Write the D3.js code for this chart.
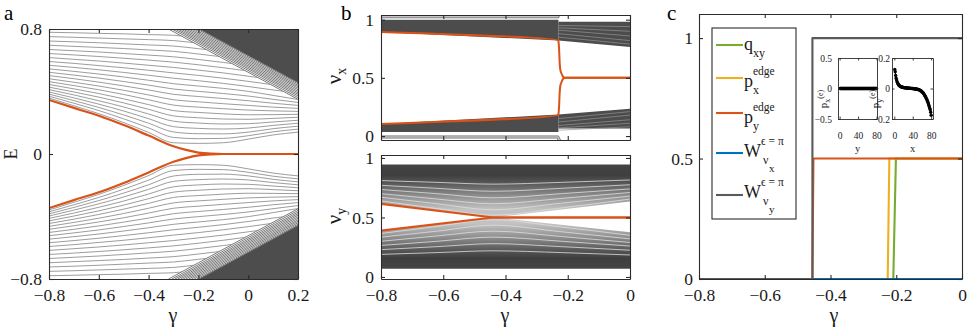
<!DOCTYPE html>
<html>
<head>
  <meta charset="utf-8">
  <title>Edge spectrum, Wannier bands and edge polarization</title>
  <script src="https://d3js.org/d3.v7.min.js"></script>
  <style>
    body { margin: 0; background: #fff; }
  </style>
</head>
<body>
<svg width="969" height="334"></svg>
<script>
// ---------- panel a: spectrum E(gamma) ----------
var gammaA = [-0.8, -0.7, -0.6, -0.5, -0.4, -0.3, -0.2, -0.1, 0, 0.1, 0.2];
// upper bulk levels (lower half is the mirror image, drawn with a flipped scale)
var bulkE = [
  [0.358, 0.309, 0.258, 0.201, 0.138, 0.072, 0.068, 0.072, 0.095, 0.122, 0.140],
  [0.370, 0.325, 0.278, 0.225, 0.167, 0.106, 0.098, 0.100, 0.117, 0.142, 0.159],
  [0.383, 0.342, 0.298, 0.250, 0.197, 0.141, 0.130, 0.129, 0.140, 0.162, 0.178],
  [0.397, 0.359, 0.319, 0.275, 0.226, 0.175, 0.164, 0.160, 0.166, 0.183, 0.197],
  [0.412, 0.378, 0.341, 0.301, 0.256, 0.210, 0.198, 0.192, 0.194, 0.205, 0.216],
  [0.428, 0.397, 0.364, 0.327, 0.286, 0.244, 0.232, 0.224, 0.222, 0.228, 0.235],
  [0.445, 0.417, 0.387, 0.353, 0.316, 0.278, 0.266, 0.257, 0.251, 0.252, 0.254],
  [0.463, 0.438, 0.411, 0.381, 0.347, 0.313, 0.300, 0.290, 0.281, 0.276, 0.273],
  [0.482, 0.459, 0.435, 0.408, 0.378, 0.347, 0.334, 0.322, 0.311, 0.300, 0.292],
  [0.502, 0.482, 0.460, 0.436, 0.410, 0.382, 0.368, 0.355, 0.341, 0.325, 0.311],
  [0.523, 0.505, 0.486, 0.464, 0.441, 0.416, 0.401, 0.387, 0.371, 0.350, 0.330],
  [0.545, 0.529, 0.512, 0.493, 0.472, 0.450, 0.435, 0.420, 0.401, 0.375, 0.349],
  [0.568, 0.554, 0.539, 0.522, 0.504, 0.485, 0.469, 0.452, 0.432, 0.410, 0.390],
  [0.592, 0.580, 0.566, 0.552, 0.536, 0.519, 0.503, 0.485, 0.465, 0.443, 0.420],
  [0.617, 0.606, 0.595, 0.582, 0.568, 0.554, 0.537, 0.519, 0.498, 0.476, 0.454],
  [0.643, 0.634, 0.624, 0.613, 0.601, 0.588, 0.571, 0.552, 0.531, 0.509, 0.487],
  [0.669, 0.661, 0.653, 0.643, 0.633, 0.622, 0.605, 0.586, 0.565, 0.543, 0.521],
  [0.696, 0.689, 0.682, 0.675, 0.666, 0.657, 0.640, 0.621, 0.600, 0.578, 0.556],
  [0.723, 0.718, 0.712, 0.705, 0.698, 0.691, 0.674, 0.655, 0.634, 0.612, 0.590],
  [0.751, 0.747, 0.742, 0.737, 0.732, 0.726, 0.709, 0.690, 0.669, 0.647, 0.625],
  [0.779, 0.776, 0.772, 0.769, 0.764, 0.760, 0.743, 0.724, 0.703, 0.681, 0.659]
];
var edgeGammaA = [-0.8, -0.7, -0.6, -0.5, -0.4, -0.3, -0.25, -0.2, -0.15, -0.1, 0, 0.1, 0.2];
var edgeE = [0.346, 0.295, 0.245, 0.185, 0.118, 0.05, 0.026, 0.009, 0.002, 0, 0, 0, 0];
// diagonal bulk band: gamma where each level leaves E = 0.8, and its E at gamma = 0.2
var bandTopGamma = [-0.320, -0.306, -0.294, -0.283, -0.272, -0.261, -0.250, -0.239, -0.228, -0.217, -0.206, -0.196];
var bandRightE = [0.350, 0.361, 0.372, 0.382, 0.392, 0.402, 0.412, 0.422, 0.431, 0.440, 0.449, 0.458];
var aXTicks = [-0.8, -0.6, -0.4, -0.2, 0, 0.2];
var aXLabels = ["\u22120.8", "\u22120.6", "\u22120.4", "\u22120.2", "0", "0.2"];
var aYTicks = [-0.8, 0, 0.8];
var aYLabels = ["\u22120.8", "0", "0.8"];

// ---------- panel b: Wannier bands nu_x, nu_y ----------
var nuxEdgeG = [-0.8, -0.23, -0.224, -0.219, -0.212, 0];
var nuxEdgeUp = [0.895, 0.82, 0.57, 0.53, 0.5, 0.5];
var nuxEdgeLo = [0.103, 0.185, 0.43, 0.47, 0.5, 0.5];
var nuxLeftG = [-0.8, -0.23];
var nuxUpLeftTop = [1.0, 1.0];
var nuxUpLeftBot = [0.895, 0.82];
var nuxLoLeftTop = [0.103, 0.185];
var nuxLoLeftBot = [0.035, 0.035];
var nuxRightG = [-0.23, 0];
var nuxUpRightTop = [0.982, 0.982];
var nuxUpRightBot = [0.82, 0.765];
var nuxLoRightTop = [0.185, 0.235];
var nuxLoRightBot = [0.065, 0.065];
var nuxRimG = [-0.8, -0.232, -0.224];
var nuxRimUp = [1.025, 1.025, 1.07];
var nuxRimLo = [-0.008, -0.008, -0.05];
var nuxStreaksUp = [[0.95, 0.94], [0.93, 0.90], [0.91, 0.86], [0.88, 0.82], [0.85, 0.79]];
var nuxStreaksLo = [[0.05, 0.08], [0.07, 0.11], [0.09, 0.14], [0.12, 0.18], [0.15, 0.21]];

var nuyG = [-0.8, -0.44, 0];
var nuyOuterTop = [0.945, 0.945, 0.945];
var nuyOuterBot = [0.07, 0.07, 0.07];
var nuyGapUp = [0.615, 0.5, 0.635];
var nuyGapLo = [0.39, 0.5, 0.375];
var nuyArcG = [-0.8, -0.62, -0.44, -0.22, 0];
var nuyArcs = [
  [0.64, 0.575, 0.52, 0.58, 0.655],
  [0.67, 0.615, 0.565, 0.62, 0.68],
  [0.70, 0.655, 0.615, 0.66, 0.71],
  [0.735, 0.70, 0.665, 0.70, 0.74],
  [0.77, 0.745, 0.72, 0.745, 0.775],
  [0.81, 0.795, 0.78, 0.795, 0.815],
  [0.365, 0.425, 0.48, 0.42, 0.35],
  [0.335, 0.385, 0.435, 0.38, 0.32],
  [0.30, 0.345, 0.385, 0.34, 0.29],
  [0.265, 0.30, 0.335, 0.30, 0.26],
  [0.23, 0.255, 0.28, 0.255, 0.225],
  [0.19, 0.205, 0.22, 0.205, 0.185]
];
var bXTicks = [-0.8, -0.6, -0.4, -0.2, 0];
var bXLabels = ["\u22120.8", "\u22120.6", "\u22120.4", "\u22120.2", "0"];
var bYTicks = [0, 0.5, 1];
var bYLabels = ["0", "0.5", "1"];

// ---------- panel c: quadrupole moment, edge polarizations, Wannier-sector polarizations ----------
var qxyG = [-0.8, -0.209, -0.201, 0];
var qxyV = [0, 0, 0.5, 0.5];
var pxEdgeG = [-0.8, -0.226, -0.221, 0];
var pxEdgeV = [0, 0, 0.5, 0.5];
var pyEdgeG = [-0.8, -0.455, -0.452, 0];
var pyEdgeV = [0, 0, 0.5, 0.5];
var wnuxG = [-0.8, 0];
var wnuxV = [0, 0];
var wnuyG = [-0.8, -0.455, -0.455, 0];
var wnuyV = [0, 0, 1, 1];
var legendMain = ["q", "p", "p", "W", "W"];
var legendSup = ["", "edge", "edge", "\u03f5 = \u03c0", "\u03f5 = \u03c0"];
var legendSub = ["xy", "x", "y", "\u03bd", "\u03bd"];
var legendSubSub = ["", "", "", "x", "y"];
var seriesColors = ["#77AC30", "#EDB120", "#D95319", "#0072BD", "#5a5a5a"];
var cXTicks = [-0.8, -0.6, -0.4, -0.2, 0];
var cXLabels = ["\u22120.8", "\u22120.6", "\u22120.4", "\u22120.2", "0"];
var cYTicks = [0, 0.5, 1];
var cYLabels = ["0", "0.5", "1"];

// insets: edge polarization profiles
var insetSite = [1,2,3,4,5,6,7,8,9,10,11,12,13,14,15,16,17,18,19,20,21,22,23,24,25,26,27,28,29,30,31,32,33,34,35,36,37,38,39,40,
  41,42,43,44,45,46,47,48,49,50,51,52,53,54,55,56,57,58,59,60,61,62,63,64,65,66,67,68,69,70,71,72,73,74,75,76,77,78,79,80];
var pxProfile = [0,0,0,0,0,0,0,0,0,0,0,0,0,0,0,0,0,0,0,0,0,0,0,0,0,0,0,0,0,0,0,0,0,0,0,0,0,0,0,0,
  0,0,0,0,0,0,0,0,0,0,0,0,0,0,0,0,0,0,0,0,0,0,0,0,0,0,0,0,0,0,0,0,0,0,0,0,0,0,0,0];
var pyProfile = [0.125, 0.11, 0.085, 0.068, 0.055, 0.045, 0.037, 0.031, 0.026, 0.022, 0.019, 0.016, 0.014, 0.012, 0.011, 0.01,
  0.009, 0.008, 0.007, 0.0065, 0.006, 0.0055, 0.005, 0.0045, 0.004, 0.0036, 0.0032, 0.0028, 0.0025, 0.0022, 0.002, 0.0017,
  0.0015, 0.0012, 0.001, 0.0008, 0.0006, 0.0004, 0.0002, 0,
  -0.0005, -0.001, -0.0015, -0.002, -0.0025, -0.003, -0.0035, -0.004, -0.0045, -0.005, -0.006, -0.007, -0.008, -0.009,
  -0.01, -0.012, -0.014, -0.016, -0.018, -0.021, -0.024, -0.027, -0.031, -0.035, -0.04, -0.045, -0.05, -0.056, -0.062,
  -0.068, -0.075, -0.082, -0.09, -0.1, -0.11, -0.12, -0.13, -0.14, -0.155, -0.175];
var insetXTicks = [0, 40, 80];
var insetXLabels = ["0", "40", "80"];
var pxYTicks = [-0.5, 0, 0.5];
var pxYLabels = ["\u22120.5", "0", "0.5"];
var pyYTicks = [-0.2, 0, 0.2];
var pyYLabels = ["\u22120.2", "0", "0.2"];

// ---------- helpers ----------
var FONT = "Liberation Serif, Times New Roman, serif";
var svg = d3.select("svg").attr("font-family", FONT);
var defs = svg.append("defs");
var ORANGE = "#D95319";

function clipRect(id, x, y) {
  defs.append("clipPath").attr("id", id).append("rect")
    .attr("x", x.range()[0]).attr("y", y.range()[1])
    .attr("width", x.range()[1] - x.range()[0]).attr("height", y.range()[0] - y.range()[1]);
}

function boxAxes(g, x, y, o) {
  var tick = o.tick || 4, fs = o.fs || 17.5;
  var xr = x.range(), yr = y.range();
  var none = function() { return ""; };
  var ax = g.append("g").attr("color", "#2b2b2b");
  ax.append("g").attr("transform", "translate(0," + yr[0] + ")")
    .call(d3.axisBottom(x).tickValues(o.xt).tickFormat(function(d, i) { return o.xl ? o.xl[i] : ""; })
      .tickSizeInner(-tick).tickSizeOuter(0).tickPadding(o.xpad || 10));
  ax.append("g").attr("transform", "translate(0," + yr[1] + ")")
    .call(d3.axisTop(x).tickValues(o.xt).tickFormat(none).tickSizeInner(-tick).tickSizeOuter(0));
  ax.append("g").attr("transform", "translate(" + xr[0] + ",0)")
    .call(d3.axisLeft(y).tickValues(o.yt).tickFormat(function(d, i) { return o.yl ? o.yl[i] : ""; })
      .tickSizeInner(-tick).tickSizeOuter(0).tickPadding(o.ypad || 7));
  ax.append("g").attr("transform", "translate(" + xr[1] + ",0)")
    .call(d3.axisRight(y).tickValues(o.yt).tickFormat(none).tickSizeInner(-tick).tickSizeOuter(0));
  ax.selectAll("g").attr("font-size", fs).attr("font-family", FONT);
  ax.selectAll(".domain, .tick line").attr("stroke-width", o.sw || 1.1);
  ax.selectAll("text").attr("fill", "#1a1a1a");
  return ax;
}

function area(g, xs, ys, G, lo, hi, fill) {
  g.append("path")
    .attr("d", d3.area().x(function(d, i) { return xs(G[i]); })
      .y0(function(d, i) { return ys(lo[i]); }).y1(function(d, i) { return ys(hi[i]); })(G))
    .attr("fill", fill);
}

function curve(g, xs, ys, G, V, color, width, kind) {
  return g.append("path")
    .attr("d", d3.line().curve(kind || d3.curveLinear)(G.map(function(v, i) { return [xs(v), ys(V[i])]; })))
    .attr("fill", "none").attr("stroke", color).attr("stroke-width", width)
    .attr("stroke-linejoin", "round");
}

function label(x, y, txt, size, rotate) {
  return svg.append("text").attr("transform", "translate(" + x + "," + y + ")" + (rotate ? " rotate(-90)" : ""))
    .attr("text-anchor", "middle").attr("font-size", size).attr("fill", "#1a1a1a").text(txt);
}

// ---------- panel a ----------
var xa = d3.scaleLinear().domain([-0.8, 0.2]).range([49, 298]);
var ya = d3.scaleLinear().domain([-0.8, 0.8]).range([279, 29]);
var yaMirror = d3.scaleLinear().domain([0.8, -0.8]).range([279, 29]);
clipRect("clipA", xa, ya);
var nb = bandTopGamma.length;
defs.append("clipPath").attr("id", "clipBulk").append("path")
  .attr("d", d3.line()([
    [xa(-0.8), ya(0.8)], [xa(bandTopGamma[0]), ya(0.8)], [xa(0.2), ya(bandRightE[0])],
    [xa(0.2), yaMirror(bandRightE[0])], [xa(bandTopGamma[0]), yaMirror(0.8)], [xa(-0.8), yaMirror(0.8)]
  ]) + "Z");

var pa = svg.append("g").attr("clip-path", "url(#clipA)");
[ya, yaMirror].forEach(function(ys) {
  pa.append("path")
    .attr("d", d3.line()([[xa(bandTopGamma[nb - 1]), ys(0.8)], [xa(0.2), ys(0.8)], [xa(0.2), ys(bandRightE[nb - 1])]]) + "Z")
    .attr("fill", "#4d4d4d").attr("stroke", "#4d4d4d").attr("stroke-width", 1);
  pa.selectAll(null).data(bandTopGamma).enter().append("line")
    .attr("x1", function(d) { return xa(d); }).attr("y1", ys(0.8))
    .attr("x2", xa(0.2)).attr("y2", function(d, i) { return ys(bandRightE[i]); })
    .attr("stroke", "#6a6a6a").attr("stroke-width", 0.9);
});
var bulk = pa.append("g").attr("clip-path", "url(#clipBulk)");
[ya, yaMirror].forEach(function(ys) {
  bulkE.forEach(function(row) { curve(bulk, xa, ys, gammaA, row, "#8a8a8a", 0.85, d3.curveMonotoneX); });
});
[ya, yaMirror].forEach(function(ys) {
  curve(pa, xa, ys, edgeGammaA, edgeE, ORANGE, 2.2, d3.curveMonotoneX);
});
boxAxes(svg.append("g"), xa, ya, { xt: aXTicks, xl: aXLabels, yt: aYTicks, yl: aYLabels });
label(17, 154, "E", 18, true);
label(173, 322, "\u03b3", 20);
svg.append("text").attr("x", 4).attr("y", 20).attr("font-size", 21).text("a");

// ---------- panel b, nu_x ----------
var xb = d3.scaleLinear().domain([-0.8, 0]).range([381, 630]);
var ybx = d3.scaleLinear().domain([-0.034, 1.04]).range([140, 15]);
var yby = d3.scaleLinear().domain([-0.017, 1.025]).range([279, 155]);
clipRect("clipBx", xb, ybx);
clipRect("clipBy", xb, yby);

var pbx = svg.append("g").attr("clip-path", "url(#clipBx)");
var DARK = "#4c4c4c";
area(pbx, xb, ybx, nuxLeftG, nuxUpLeftBot, nuxUpLeftTop, DARK);
area(pbx, xb, ybx, nuxLeftG, nuxLoLeftBot, nuxLoLeftTop, DARK);
area(pbx, xb, ybx, nuxRightG, nuxUpRightBot, nuxUpRightTop, DARK);
area(pbx, xb, ybx, nuxRightG, nuxLoRightBot, nuxLoRightTop, DARK);
nuxStreaksUp.concat(nuxStreaksLo).forEach(function(s) {
  curve(pbx, xb, ybx, nuxRightG, s, "#939393", 0.7);
});
curve(pbx, xb, ybx, nuxRimG, nuxRimUp, "#6a6a6a", 3);
curve(pbx, xb, ybx, nuxRimG, nuxRimUp, "#c4c4c4", 1.6);
curve(pbx, xb, ybx, nuxRimG, nuxRimLo, "#6a6a6a", 3);
curve(pbx, xb, ybx, nuxRimG, nuxRimLo, "#c4c4c4", 1.6);
curve(pbx, xb, ybx, nuxEdgeG, nuxEdgeUp, ORANGE, 2, d3.curveMonotoneY);
curve(pbx, xb, ybx, nuxEdgeG, nuxEdgeLo, ORANGE, 2, d3.curveMonotoneY);
boxAxes(svg.append("g"), xb, ybx, { xt: bXTicks, yt: bYTicks, yl: bYLabels });

// ---------- panel b, nu_y ----------
var grad = defs.append("linearGradient").attr("id", "gradNuy").attr("gradientUnits", "userSpaceOnUse")
  .attr("x1", 0).attr("x2", 0).attr("y1", yby(0.945)).attr("y2", yby(0.07));
[[0, "#444"], [0.1, "#3e3e3e"], [0.18, "#585858"], [0.3, "#8e8e8e"], [0.43, "#c2c2c2"], [0.57, "#c2c2c2"],
 [0.7, "#8e8e8e"], [0.82, "#585858"], [0.9, "#3e3e3e"], [1, "#444"]].forEach(function(s) {
  grad.append("stop").attr("offset", s[0]).attr("stop-color", s[1]);
});
var pby = svg.append("g").attr("clip-path", "url(#clipBy)");
area(pby, xb, yby, nuyG, nuyOuterBot, nuyOuterTop, "url(#gradNuy)");
nuyArcs.forEach(function(a) { curve(pby, xb, yby, nuyArcG, a, "#dedede", 0.8, d3.curveMonotoneX); });
area(pby, xb, yby, nuyG, nuyGapLo, nuyGapUp, "#fff");
curve(pby, xb, yby, nuyG, nuyGapUp.slice(0, 2).concat([0.5]), ORANGE, 2.2);
curve(pby, xb, yby, nuyG, nuyGapLo.slice(0, 2).concat([0.5]), ORANGE, 2.2);
boxAxes(svg.append("g"), xb, yby, { xt: bXTicks, xl: bXLabels, yt: bYTicks, yl: bYLabels });

function nuLabel(y, sub) {
  var t = svg.append("text").attr("transform", "translate(341," + y + ") rotate(-90)")
    .attr("text-anchor", "middle").attr("fill", "#1a1a1a");
  t.append("tspan").attr("font-size", 21).text("\u03bd");
  t.append("tspan").attr("font-size", 14).attr("dy", 5).text(sub);
}
nuLabel(76, "x");
nuLabel(216, "y");
label(505, 322, "\u03b3", 20);
svg.append("text").attr("x", 341).attr("y", 20).attr("font-size", 21).text("b");

// ---------- panel c ----------
var xc = d3.scaleLinear().domain([-0.8, 0]).range([699, 962]);
var yc = d3.scaleLinear().domain([0, 1.1]).range([279, 14]);
clipRect("clipC", xc, yc);
var pc = svg.append("g").attr("clip-path", "url(#clipC)");
var seriesG = [qxyG, pxEdgeG, pyEdgeG, wnuxG, wnuyG];
var seriesV = [qxyV, pxEdgeV, pyEdgeV, wnuxV, wnuyV];
seriesG.forEach(function(G, k) { curve(pc, xc, yc, G, seriesV[k], seriesColors[k], 2.1); });
boxAxes(svg.append("g"), xc, yc, { xt: cXTicks, xl: cXLabels, yt: cYTicks, yl: cYLabels, ypad: 6 });
label(834, 322, "\u03b3", 20);
svg.append("text").attr("x", 667).attr("y", 20).attr("font-size", 21).text("c");

// legend
var lg = svg.append("g").attr("fill", "#1a1a1a");
lg.append("rect").attr("x", 712).attr("y", 28).attr("width", 84).attr("height", 191)
  .attr("fill", "#fff").attr("stroke", "#2b2b2b").attr("stroke-width", 1.1);
var legendLineY = [45, 78, 113, 153, 195];
var legendBaseY = [50, 87, 123, 157, 198];
legendMain.forEach(function(m, k) {
  lg.append("line").attr("x1", 716).attr("x2", 743).attr("y1", legendLineY[k]).attr("y2", legendLineY[k])
    .attr("stroke", seriesColors[k]).attr("stroke-width", 2.1);
  var x = 744, y = legendBaseY[k];
  var t = lg.append("text").attr("x", x).attr("y", y).attr("font-size", 18).text(m);
  var w = t.node().getComputedTextLength();
  if (legendSup[k]) lg.append("text").attr("x", x + w).attr("y", y - 12).attr("font-size", 11.5).text(legendSup[k]);
  var sx = x + w + (legendSubSub[k] ? 2 : 0);
  var st = lg.append("text").attr("x", sx).attr("y", y + 7).attr("font-size", 12).text(legendSub[k]);
  if (legendSubSub[k]) {
    lg.append("text").attr("x", sx + st.node().getComputedTextLength() + 0.5).attr("y", y + 15)
      .attr("font-size", 11).text(legendSubSub[k]);
  }
});

// insets
function inset(x0, x1, xdom, vals, ydom, yt, yl, ypad, sub, labX, xname) {
  var xs = d3.scaleLinear().domain(xdom).range([x0, x1]);
  var ys = d3.scaleLinear().domain(ydom).range([119, 58]);
  var g = svg.append("g");
  g.append("rect").attr("x", x0).attr("y", 58).attr("width", x1 - x0).attr("height", 61).attr("fill", "#fff");
  curve(g, xs, ys, insetSite, vals, "#000", 1);
  g.selectAll(null).data(vals).enter().append("circle")
    .attr("cx", function(d, i) { return xs(insetSite[i]); }).attr("cy", function(d) { return ys(d); })
    .attr("r", 1.7).attr("fill", "#000");
  boxAxes(g, xs, ys, { xt: insetXTicks, xl: insetXLabels, yt: yt, yl: yl, fs: 9.5, tick: 2.5, xpad: 13, ypad: ypad, sw: 0.9 });
  var t = svg.append("text").attr("transform", "translate(" + labX + ",99) rotate(-90)")
    .attr("text-anchor", "middle").attr("fill", "#1a1a1a");
  t.append("tspan").attr("font-size", 11).text("p");
  t.append("tspan").attr("font-size", 8).attr("dy", 3).text(sub);
  t.append("tspan").attr("font-size", 8).attr("dy", -7).text("(e)");
  svg.append("text").attr("x", (x0 + x1) / 2).attr("y", 152).attr("text-anchor", "middle")
    .attr("font-size", 10.5).attr("fill", "#1a1a1a").text(xname);
}
inset(838, 877, [-3.5, 81], pxProfile, [-0.5, 0.5], pxYTicks, pxYLabels, 6, "x", 827, "y");
inset(892, 933, [-5, 84], pyProfile, [-0.2, 0.2], pyYTicks, pyYLabels, 2, "y", 879, "x");

svg.selectAll("text").attr("font-family", FONT);
</script>
</body>
</html>
